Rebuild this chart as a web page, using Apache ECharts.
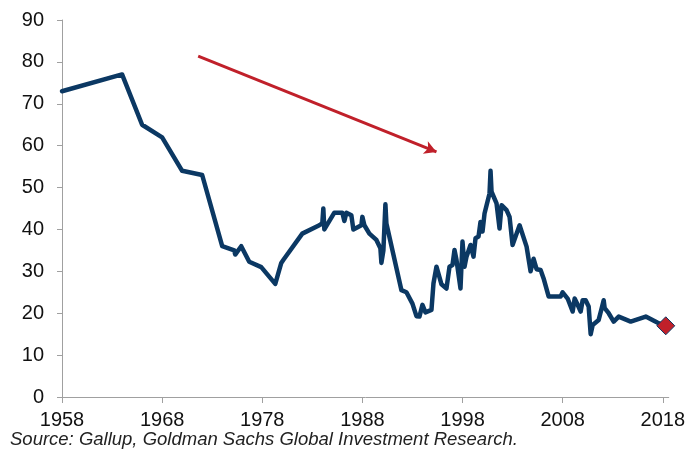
<!DOCTYPE html>
<html>
<head>
<meta charset="utf-8">
<script src="https://cdn.jsdelivr.net/npm/echarts@6/dist/echarts.min.js"></script>
<style>
  html, body { margin: 0; padding: 0; background: #fff; }
  #chart { width: 688px; height: 453px; }
</style>
</head>
<body>
<div id="chart"></div>
<script>
// survey dates (fractional years) and share trusting government (%)
const years = [
  1958, 1964, 1966, 1968, 1970, 1972, 1974, 1975.2, 1975.3, 1975.9,
  1976.7, 1977.9, 1979.3, 1979.9, 1980.1, 1982, 1983.7, 1984.0, 1984.1, 1984.2,
  1985.2, 1986, 1986.2, 1986.4, 1986.9, 1987.1, 1987.9, 1988.0, 1988.2, 1988.7,
  1989.4, 1989.8, 1989.9, 1990.1, 1990.3, 1990.4, 1991.9, 1992.4, 1993.0, 1993.4,
  1993.7, 1994.0, 1994.3, 1994.9, 1995.1, 1995.4, 1995.9, 1996.4, 1996.7, 1997.0,
  1997.2, 1997.4, 1997.8, 1998.0, 1998.2, 1998.4, 1998.8, 1999.1, 1999.3, 1999.6,
  1999.8, 2000.0, 2000.2, 2000.7, 2000.8, 2000.9, 2001.4, 2001.7, 2001.9, 2002.4,
  2002.7, 2003.0, 2003.7, 2004.4, 2004.8, 2005.1, 2005.4, 2005.8, 2006.1, 2006.6,
  2007.8, 2008.0, 2008.5, 2009.0, 2009.2, 2009.5, 2009.8, 2010.0, 2010.3, 2010.6,
  2010.8, 2011.0, 2011.6, 2011.9, 2012.1, 2012.2, 2012.6, 2013.1, 2013.6, 2014.8,
  2016.3, 2017.5, 2018.3
];
const trust = [
  73, 77, 65, 62, 54, 53, 36, 35, 34, 36,
  32.3, 31, 27, 32, 32.7, 39, 41, 41.5, 45, 40,
  44, 44, 42, 44, 43.4, 40, 41, 43, 41, 39,
  37.5, 35.5, 32, 35, 46, 41.4, 25.5, 25, 22.3, 19.3,
  19.2, 22, 20.2, 20.8, 27.1, 31.1, 26.9, 25.9, 31.1, 31.5,
  35.1, 32.7, 25.9, 37.1, 31.1, 33.5, 36.3, 33.5, 37.9, 38.3,
  41.8, 39.5, 43.8, 48.6, 54, 49, 46.2, 40.2, 45.8, 44.6,
  43, 36.3, 41, 35.9, 30, 33, 30.5, 30.3, 28.3, 24,
  24, 25, 23.5, 20.4, 23.5, 22, 20.4, 23.1, 23.1, 21.6,
  15, 17.2, 18.4, 21.2, 23.1, 21.2, 20, 18, 19.2, 18,
  19.2, 17.7, 17
];
const xTicks = [1958, 1968, 1978, 1988, 1998, 2008, 2018];
const yTicks = [0, 10, 20, 30, 40, 50, 60, 70, 80, 90];
// downward-trend arrow, in data coordinates [year, value]
const arrowFrom = [1971.6, 81.4];
const arrowTo = [1995.4, 58.5];

const navy = '#0b3863';
const red = '#c0202a';
const axisGrey = '#a0a0a0';
const labelFont = 'Liberation Sans, Arial, sans-serif';

const lineData = years.map((y, i) => [y, trust[i]]);
const last = lineData[lineData.length - 1];

const chart = echarts.init(document.getElementById('chart'));
chart.setOption({
  animation: false,
  grid: { left: 62, right: 18, top: 20, bottom: 56 },
  xAxis: {
    type: 'value', min: 1958, max: 2018.6,
    axisLine: { show: true, lineStyle: { color: axisGrey, width: 1 } },
    axisTick: { show: true, length: 6, lineStyle: { color: axisGrey }, customValues: xTicks },
    axisLabel: {
      customValues: xTicks, formatter: v => String(v),
      fontFamily: labelFont, fontSize: 20, color: '#111', margin: 13
    },
    splitLine: { show: false }
  },
  yAxis: {
    type: 'value', min: 0, max: 90, interval: 10,
    axisLine: { show: true, lineStyle: { color: axisGrey, width: 1 } },
    axisTick: { show: true, length: 5, lineStyle: { color: axisGrey }, customValues: yTicks },
    axisLabel: { customValues: yTicks, fontFamily: labelFont, fontSize: 20, color: '#111', margin: 18 },
    splitLine: { show: false }
  },
  series: [
    {
      type: 'line', data: lineData, showSymbol: false, symbol: 'none',
      lineStyle: { color: navy, width: 4.5, join: 'round', cap: 'round' },
      markLine: {
        silent: true, symbol: ['none', 'arrow'], symbolSize: [10, 12],
        label: { show: false },
        lineStyle: { color: red, width: 3, type: 'solid' },
        data: [[{ coord: arrowFrom }, { coord: arrowTo }]]
      }
    },
    {
      type: 'scatter', data: [last], symbol: 'diamond', symbolSize: 18,
      itemStyle: { color: red, borderColor: navy, borderWidth: 1, opacity: 1 }, z: 5
    }
  ],
  graphic: [{
    type: 'text', left: 10, top: 430,
    style: {
      text: 'Source: Gallup, Goldman Sachs Global Investment Research.',
      font: 'italic 18.5px "Liberation Sans", Arial, sans-serif', fill: '#222'
    }
  }]
});
</script>
</body>
</html>
